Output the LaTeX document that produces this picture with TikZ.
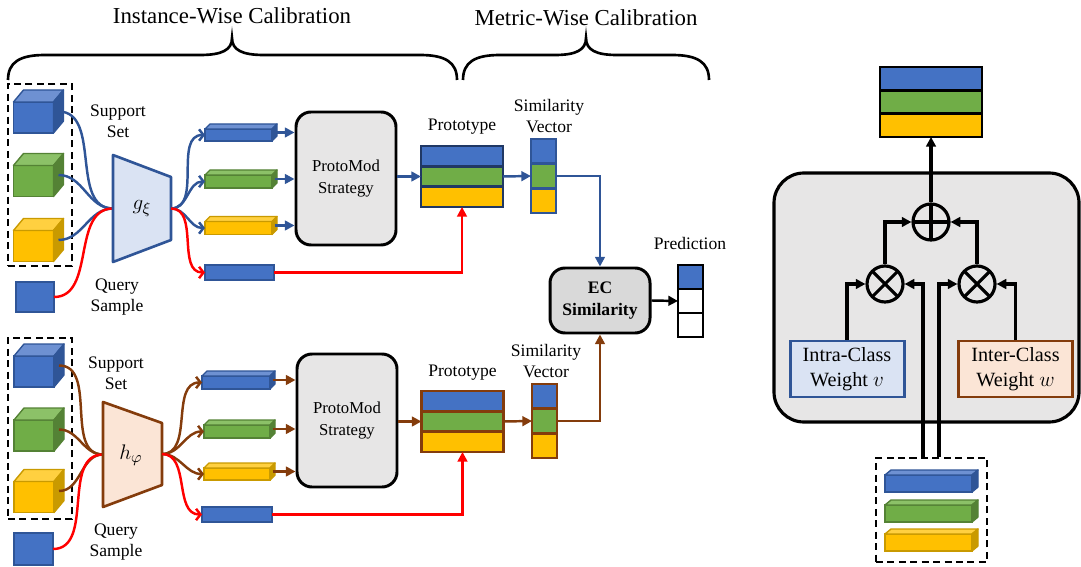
\documentclass[tikz,border=0pt]{standalone}
\usepackage{fontspec}
\setmainfont{Liberation Serif}
\usepackage{amsmath}
\usepackage{tikz}
\usetikzlibrary{arrows.meta}
\usetikzlibrary{positioning}
\usetikzlibrary{calc}

\definecolor{cblue}{HTML}{4472C4}
\definecolor{cbluetop}{HTML}{6E91D2}
\definecolor{cblueside}{HTML}{2F5597}
\definecolor{cgreen}{HTML}{70AD47}
\definecolor{cgreentop}{HTML}{8CC168}
\definecolor{cgreenside}{HTML}{548235}
\definecolor{cyellow}{HTML}{FFC000}
\definecolor{cyellowtop}{HTML}{FFD040}
\definecolor{cyellowside}{HTML}{C99A00}
\definecolor{lineblue}{HTML}{2F5597}
\definecolor{navy}{HTML}{203864}
\definecolor{linebrown}{HTML}{843C0C}
\definecolor{lightblue}{HTML}{DAE3F3}
\definecolor{lightorange}{HTML}{FBE5D6}
\definecolor{boxgray}{HTML}{E7E6E6}
\definecolor{ecgray}{HTML}{D9D9D9}

\def\pxu{0.02cm}

\tikzset{
  lbl/.style={font=\fontsize{10}{12}\selectfont, align=center, inner sep=0},
  head/.style={font=\fontsize{13}{15}\selectfont, inner sep=0},
  blockface/.style={draw, line width=0.8pt, inner sep=0, outer sep=0},
  query/.style={draw=cblueside, fill=cblue, line width=0.8pt, inner sep=0, outer sep=0},
  supbox/.style={draw, dashed, dash pattern=on 4pt off 2.5pt, line width=1.6pt, inner sep=0},
  strategy/.style={draw, rounded corners=0.3cm, fill=boxgray, line width=1.7pt,
    minimum width=100*\pxu, minimum height=133*\pxu, align=center,
    font=\fontsize{9.5}{13}\selectfont},
  cell/.style={draw=#1, line width=1.5pt, inner sep=0, outer sep=0},
  protorow/.style={cell=#1, minimum width=82*\pxu, minimum height=20.3*\pxu},
  simcell/.style={cell=#1, minimum width=25*\pxu, minimum height=24.7*\pxu},
  link/.style={line width=1.4pt, ->},
  curve/.style={line width=1.4pt},
  barb/.style={line width=1.4pt, -{Straight Barb[length=2.5pt,width=6.5pt]}},
  wire/.style={line width=1.9pt, ->},
  weight/.style={draw=#1, line width=1.7pt, minimum width=114*\pxu, minimum height=56*\pxu,
    align=center, font=\fontsize{11.5}{14}\selectfont},
  opnode/.style={circle, draw, line width=1.8pt, minimum size=36*\pxu, inner sep=0, fill=boxgray},
  opplus/.style={opnode, path picture={\draw[line width=1.8pt]
    (path picture bounding box.north) -- (path picture bounding box.south)
    (path picture bounding box.west) -- (path picture bounding box.east);}},
  optimes/.style={opnode, path picture={\draw[line width=1.8pt]
    (path picture bounding box.north west) -- (path picture bounding box.south east)
    (path picture bounding box.south west) -- (path picture bounding box.north east);}},
}

% front face as a node, top and side faces drawn from its anchors
\newcommand{\block}[7]{%
  \node[blockface, minimum width=#3*\pxu, minimum height=#4*\pxu, fill=#7, draw=#7side] (#1) at (#2) {};
  \filldraw[fill=#7top, draw=#7side, line width=0.8pt, line join=round]
    (#1.north west) -- ++(#5,-#6) -- ($(#1.north east)+(#5,-#6)$) -- (#1.north east) -- cycle;
  \filldraw[fill=#7side, draw=#7side, line width=0.8pt, line join=round]
    (#1.north east) -- ++(#5,-#6) -- ($(#1.south east)+(#5,-#6)$) -- (#1.south east) -- cycle;
  \coordinate (#1-out) at ($(#1.east)+(#5/2,-#6/2)$);
}

\begin{document}
\begin{tikzpicture}[x=0.02cm, y=-0.02cm, >={Triangle[length=5.5pt,width=5.5pt]}]

    \useasboundingbox (0,0) rectangle (1081,567);

    % Braces and headings
    \draw[line width=1.5pt] (8,80) .. controls (8,62) and (20,55) .. (45,55) -- (200,55)
        .. controls (222,55) and (232,50) .. (232,38)
        .. controls (232,50) and (242,55) .. (264,55) -- (420,55)
        .. controls (445,55) and (457,62) .. (457,80);
    \draw[line width=1.5pt] (463,80) .. controls (463,62) and (475,55) .. (500,55) -- (555,55)
        .. controls (576,55) and (586,50) .. (586,38)
        .. controls (586,50) and (596,55) .. (617,55) -- (672,55)
        .. controls (697,55) and (709,62) .. (709,80);
    \node[head] (iwc) at (232,16) {Instance-Wise Calibration};
    \node[head] (mwc) at (586,18) {Metric-Wise Calibration};

    % ---------------- first branch ----------------
    \node[supbox, minimum width=64*\pxu, minimum height=182*\pxu] (sup1) at (40,175) {};
    \block{b1}{33.5,117.5}{40}{31}{10}{12}{cblue}
    \block{g1}{33.5,181}{40}{31}{10}{12}{cgreen}
    \block{y1}{33.5,246}{40}{31}{10}{12}{cyellow}
    \node[query, minimum width=38*\pxu, minimum height=30*\pxu] (q1) at (35,297) {};
    \node[lbl] (sup1-lbl) at (118,121.5) {Support\\Set};
    \node[lbl] (q1-lbl) at (117,297.5) {Query\\Sample};

    \coordinate (enc1-in) at (113,208.5);
    \coordinate (enc1-out) at (171,208.5);
    \draw[curve, lineblue] (b1-out) to[out=0, in=180] (enc1-in);
    \draw[curve, lineblue] (g1-out) to[out=0, in=180] (enc1-in);
    \draw[curve, lineblue] (y1-out) to[out=0, in=180] (enc1-in);
    \draw[curve, red] (q1.east) to[out=0, in=180] (enc1-in);
    \filldraw[fill=lightblue, draw=lineblue, line width=1.5pt, line join=round]
        (113,155) -- (171,177) -- (171,240) -- (113,262) -- cycle;
    \node[font=\fontsize{13}{15}\selectfont] (enc1) at (142,208.5) {$g_{\xi}$};

    \block{f1b}{238.5,135}{67}{12}{5}{5}{cblue}
    \block{f1g}{238.5,181.5}{67}{13}{5}{5}{cgreen}
    \block{f1y}{238.5,228}{67}{13}{5}{5}{cyellow}
    \node[query, minimum width=69*\pxu, minimum height=15*\pxu] (qf1) at (239.5,272.5) {};
    \draw[barb, lineblue] (enc1-out) to[out=0, in=180] (f1b.west);
    \draw[barb, lineblue] (enc1-out) to[out=0, in=180] (f1g.west);
    \draw[barb, lineblue] (enc1-out) to[out=0, in=180] (f1y.west);
    \draw[barb, red] (enc1-out) to[out=0, in=180] (qf1.west);

    \node[strategy] (pm1) at (346,178.5) {ProtoMod\\Strategy};
    \draw[link, lineblue] (f1b-out) -- (f1b-out -| pm1.west);
    \draw[link, lineblue] (f1g-out) -- (f1g-out -| pm1.west);
    \draw[link, lineblue] (f1y-out) -- (f1y-out -| pm1.west);

    \node[protorow=navy, fill=cblue] (p1a) at (462,156.2) {};
    \node[protorow=navy, fill=cgreen] (p1b) at (462,176.5) {};
    \node[protorow=navy, fill=cyellow] (p1c) at (462,196.8) {};
    \node[lbl] (p1-lbl) at (462,127) {Prototype};
    \draw[link, lineblue] (pm1.east |- p1b) -- (p1b.west);

    \node[simcell=lineblue, fill=cblue] (s1a) at (543.5,151.3) {};
    \node[simcell=lineblue, fill=cgreen] (s1b) at (543.5,176) {};
    \node[simcell=lineblue, fill=cyellow] (s1c) at (543.5,200.7) {};
    \node[lbl] (s1-lbl) at (549,116) {Similarity\\Vector};
    \draw[link, lineblue] (p1b.east) -- (s1b.west);
    \draw[link, red] (qf1.east) -| (p1c.south);

    % ---------------- second branch ----------------
    \node[supbox, minimum width=64*\pxu, minimum height=181*\pxu] (sup2) at (40,428.5) {};
    \block{b2}{34,371.5}{40}{31}{10}{12}{cblue}
    \block{g2}{34,435.5}{40}{31}{10}{12}{cgreen}
    \block{y2}{34,497}{40}{31}{10}{12}{cyellow}
    \node[query, minimum width=39*\pxu, minimum height=32*\pxu] (q2) at (33.5,549) {};
    \node[lbl] (sup2-lbl) at (116,373) {Support\\Set};
    \node[lbl] (q2-lbl) at (116,542.5) {Query\\Sample};

    \coordinate (enc2-in) at (103,454.5);
    \coordinate (enc2-out) at (162,454);
    \draw[curve, linebrown] (b2-out) to[out=0, in=180] (enc2-in);
    \draw[curve, linebrown] (g2-out) to[out=0, in=180] (enc2-in);
    \draw[curve, linebrown] (y2-out) to[out=0, in=180] (enc2-in);
    \draw[curve, red] (q2.east) to[out=0, in=180] (enc2-in);
    \filldraw[fill=lightorange, draw=linebrown, line width=1.5pt, line join=round]
        (103,402) -- (162,423) -- (162,485) -- (103,507) -- cycle;
    \node[font=\fontsize{13}{15}\selectfont] (enc2) at (131,455) {$h_{\varphi}$};

    \block{f2b}{236,382.5}{68}{13}{5}{5}{cblue}
    \block{f2g}{237,431.5}{66}{13}{5}{5}{cgreen}
    \block{f2y}{237,474}{66}{12}{5}{5}{cyellow}
    \node[query, minimum width=70*\pxu, minimum height=15*\pxu] (qf2) at (237,514.5) {};
    \draw[barb, linebrown] (enc2-out) to[out=0, in=180] (f2b.west);
    \draw[barb, linebrown] (enc2-out) to[out=0, in=180] (f2g.west);
    \draw[barb, linebrown] (enc2-out) to[out=0, in=180] (f2y.west);
    \draw[barb, red] (enc2-out) to[out=0, in=180] (qf2.west);

    \node[strategy] (pm2) at (347,420.5) {ProtoMod\\Strategy};
    \draw[link, linebrown] (f2b-out) -- (f2b-out -| pm2.west);
    \draw[link, linebrown] (f2g-out) -- (f2g-out -| pm2.west);
    \draw[link, linebrown] (f2y-out) -- (f2y-out -| pm2.west);

    \node[protorow=linebrown, fill=cblue] (p2a) at (462.5,401.2) {};
    \node[protorow=linebrown, fill=cgreen] (p2b) at (462.5,421.5) {};
    \node[protorow=linebrown, fill=cyellow] (p2c) at (462.5,441.8) {};
    \node[lbl] (p2-lbl) at (462.5,373) {Prototype};
    \draw[link, linebrown] (pm2.east |- p2b) -- (p2b.west);

    \node[simcell=linebrown, fill=cblue] (s2a) at (544.5,396.3) {};
    \node[simcell=linebrown, fill=cgreen] (s2b) at (544.5,421) {};
    \node[simcell=linebrown, fill=cyellow] (s2c) at (544.5,445.7) {};
    \node[lbl] (s2-lbl) at (546,361) {Similarity\\Vector};
    \draw[link, linebrown] (p2b.east) -- (s2b.west);
    \draw[link, red] (qf2.east) -| (p2c.south);

    % ---------------- metric and prediction ----------------
    \node[draw, rounded corners=0.3cm, fill=ecgray, line width=1.7pt, minimum width=100*\pxu,
        minimum height=65*\pxu, align=center, font=\bfseries\fontsize{10}{13}\selectfont]
        (ec) at (600,300.5) {EC\\Similarity};
    \draw[link, lineblue] (s1b.east) -| (ec.north);
    \draw[link, linebrown] (s2b.east) -| (ec.south);

    \node[simcell=black, minimum height=24*\pxu, fill=cblue] (pr1) at (690.5,277) {};
    \node[simcell=black, minimum height=24*\pxu, fill=white] (pr2) at (690.5,301) {};
    \node[simcell=black, minimum height=24*\pxu, fill=white] (pr3) at (690.5,325) {};
    \node[lbl] (pr-lbl) at (690,243) {Prediction};
    \draw[link, black] (ec.east) -- (pr2.west);

    % ---------------- calibration module ----------------
    \node[draw, rounded corners=0.6cm, fill=boxgray, line width=1.8pt, minimum width=305*\pxu,
        minimum height=249*\pxu] (panel) at (926.5,297.5) {};

    \node[cell=black, minimum width=102*\pxu, minimum height=23.3*\pxu, fill=cblue] (o1) at (931,78.7) {};
    \node[cell=black, minimum width=102*\pxu, minimum height=23.3*\pxu, fill=cgreen] (o2) at (931,102) {};
    \node[cell=black, minimum width=102*\pxu, minimum height=23.3*\pxu, fill=cyellow] (o3) at (931,125.3) {};

    \node[opplus] (plus) at (931,222) {};
    \node[optimes] (tl) at (885,284) {};
    \node[optimes] (tr) at (977,284) {};
    \node[weight=lineblue, fill=lightblue] (intra) at (847,369) {Intra-Class\\Weight $v$};
    \node[weight=linebrown, fill=lightorange] (inter) at (1015.5,369) {Inter-Class\\Weight $w$};

    \node[supbox, minimum width=111*\pxu, minimum height=104*\pxu] (fbox) at (931.5,510) {};
    \block{fb}{928.5,483.5}{87}{17}{6}{5}{cblue}
    \block{fg}{928.5,513.5}{87}{17}{6}{5}{cgreen}
    \block{fy}{928.5,542.5}{87}{17}{6}{5}{cyellow}
    \coordinate (fin1) at ($(fbox.north)+(-8.5,0)$);
    \coordinate (fin2) at ($(fbox.north)+(7.5,0)$);

    \draw[wire] (plus.north) -- (o3.south);
    \draw[wire] (tl.north) |- (plus.west);
    \draw[wire] (tr.north) |- (plus.east);
    \draw[wire] (intra.north) |- (tl.west);
    \draw[wire] (inter.north) |- (tr.east);
    \draw[wire] (fin1) |- (tl.east);
    \draw[wire] (fin2) |- (tr.west);

\end{tikzpicture}
\end{document}
